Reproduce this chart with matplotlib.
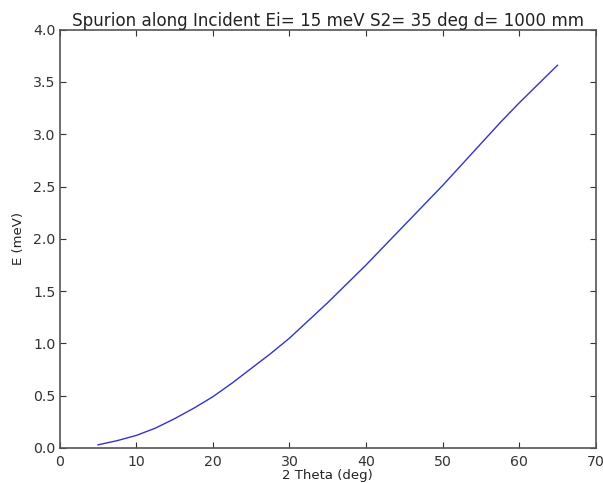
import matplotlib
matplotlib.use('Agg')
import matplotlib.pyplot as plt

# Data
two_theta = [5, 7.5, 10, 12.5, 15, 17.5, 20, 22.5, 25, 27.5, 30, 32.5, 35,
             37.5, 40, 42.5, 45, 47.5, 50, 52.5, 55, 57.5, 60, 62.5, 65]
energy = [0.03, 0.07, 0.12, 0.19, 0.28, 0.38, 0.49, 0.62, 0.76, 0.90, 1.05,
          1.22, 1.39, 1.57, 1.75, 1.94, 2.13, 2.32, 2.51, 2.71, 2.91, 3.11,
          3.30, 3.48, 3.66]

fig = plt.figure(figsize=(6.03, 4.83), dpi=100, facecolor='white')
ax = fig.add_axes([0.099, 0.0725, 0.889, 0.866])
ax.plot(two_theta, energy, color='#3333cc', linewidth=1.0)

ax.set_xlim(0, 70)
ax.set_ylim(0, 4.0)
ax.set_xticks(range(0, 71, 10))
ax.set_yticks([0.0, 0.5, 1.0, 1.5, 2.0, 2.5, 3.0, 3.5, 4.0])
ax.yaxis.set_major_formatter(matplotlib.ticker.FormatStrFormatter('%.1f'))
ax.tick_params(direction='in', top=True, right=True, length=4, width=0.8,
               labelsize=10.2, colors='#333333', pad=3)
ax.tick_params(axis='x', pad=5)
for s in ax.spines.values():
    s.set_color('#555555')
    s.set_linewidth(1.2)

ax.set_title('Spurion along Incident Ei= 15 meV S2= 35 deg d= 1000 mm',
             fontsize=12.1, color='#222222', pad=3)
ax.set_xlabel('2 Theta (deg)', fontsize=9.5, color='#222222', labelpad=0)
ax.set_ylabel('E (meV)', fontsize=9.5, color='#222222', labelpad=6)

fig.savefig('out.png', dpi=100, facecolor='white')
